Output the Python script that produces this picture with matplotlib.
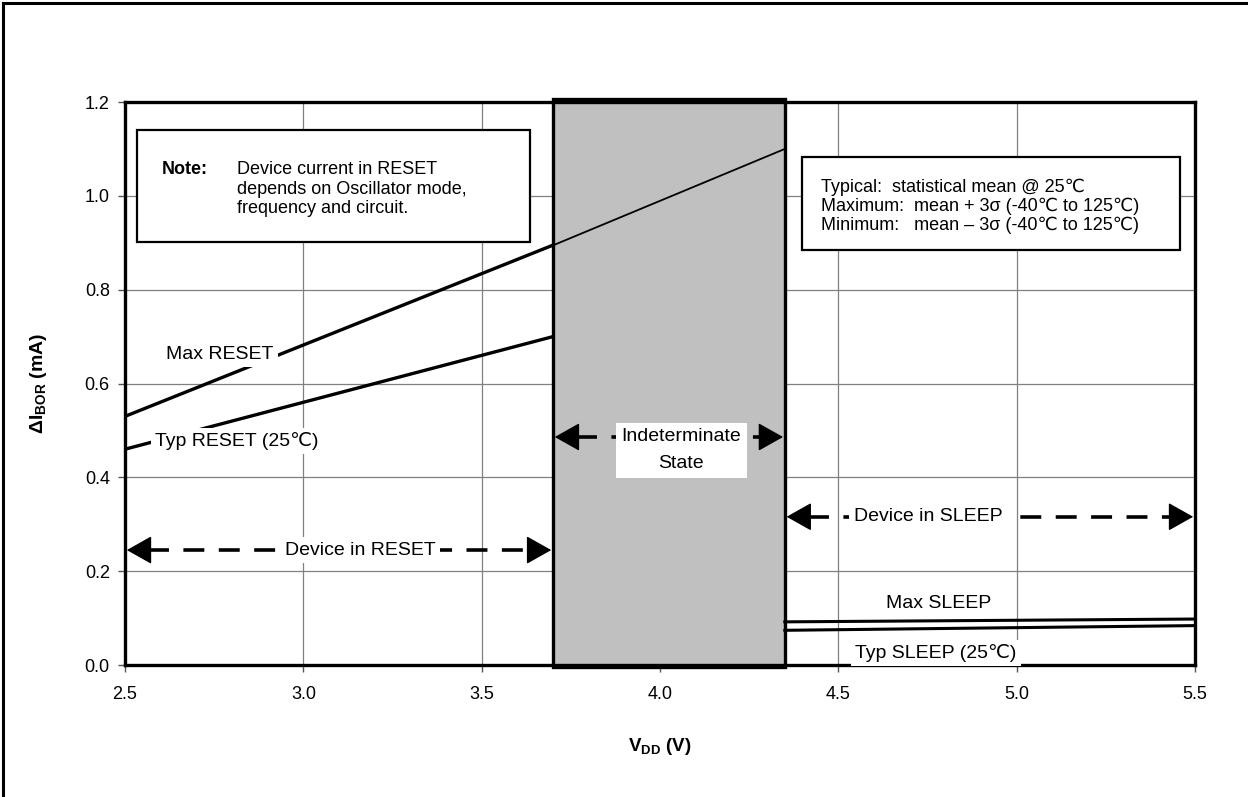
import matplotlib
matplotlib.use('Agg')
import matplotlib.pyplot as plt
from matplotlib.patches import Rectangle
from matplotlib.lines import Line2D

plt.rcParams['font.family'] = ['Liberation Sans', 'DejaVu Sans']
plt.rcParams['mathtext.fontset'] = 'custom'
plt.rcParams['mathtext.rm'] = 'Liberation Sans'
plt.rcParams['mathtext.bf'] = 'Liberation Sans:bold'

# data
vdd_reset = [2.5, 3.7]
max_reset = [0.53, 0.895]
typ_reset = [0.46, 0.70]
vdd_max_ext = [3.67, 4.35]
max_reset_ext = [0.885, 1.10]
vdd_sleep = [4.35, 5.5]
max_sleep = [0.092, 0.098]
typ_sleep = [0.074, 0.084]
indet_lo, indet_hi = 3.7, 4.35
xticks = [2.5, 3.0, 3.5, 4.0, 4.5, 5.0, 5.5]
yticks = [0.0, 0.2, 0.4, 0.6, 0.8, 1.0, 1.2]

fig = plt.figure(figsize=(12.48, 7.97), dpi=100)
ax = fig.add_axes([0.1002, 0.1656, 0.8573, 0.7064])
ax.set_xlim(2.5, 5.5)
ax.set_ylim(0, 1.2)
ax.set_xticks(xticks)
ax.set_yticks(yticks)
ax.set_xticklabels([f'{v:.1f}' for v in xticks])
ax.set_yticklabels([f'{v:.1f}' for v in yticks])
ax.tick_params(labelsize=13, length=5, width=1, color='#555555', pad=6)
ax.tick_params(axis='x', pad=10)
ax.grid(True, color='#808080', lw=0.9)
ax.set_axisbelow(True)
for s in ax.spines.values():
    s.set_linewidth(2.4)
    s.set_color('black')

# outer frame (top + left only)
fig.add_artist(Line2D([0.0025, 1.0], [0.996, 0.996], color='black', lw=2.2))
fig.add_artist(Line2D([0.0025, 0.0025], [0.0, 0.996], color='black', lw=2.2))

# indeterminate zone
ax.add_patch(Rectangle((indet_lo, -0.004), indet_hi - indet_lo, 1.21,
                       facecolor='#c0c0c0', edgecolor='black', lw=2.4,
                       clip_on=False, zorder=2))

ax.plot(vdd_reset, max_reset, color='black', lw=2.4, zorder=3)
ax.plot(vdd_reset, typ_reset, color='black', lw=2.4, zorder=3)
ax.plot(vdd_max_ext, max_reset_ext, color='black', lw=1.3, zorder=3)
ax.plot(vdd_sleep, max_sleep, color='black', lw=2.2, zorder=3)
ax.plot(vdd_sleep, typ_sleep, color='black', lw=2.2, zorder=3)

lbl = dict(fontsize=14, ha='center', va='center', zorder=5,
           bbox=dict(facecolor='white', edgecolor='none', pad=3))
ax.text(2.766, 0.661, 'Max RESET', **lbl)
ax.text(2.814, 0.478, 'Typ RESET (25\u2103)', **lbl)
ax.text(4.78, 0.132, 'Max SLEEP', **lbl)
ax.text(4.774, 0.026, 'Typ SLEEP (25\u2103)', **lbl)


def dbl_arrow(x0, x1, y):
    hl = 0.06
    ax.plot([x0 + hl, x1 - hl], [y, y], color='black', lw=2.6,
            dashes=(5.8, 4.0), zorder=4)
    for tip, tail in ((x0, x0 + hl), (x1, x1 - hl)):
        ax.annotate('', xy=(tip, y), xytext=(tail, y),
                    arrowprops=dict(arrowstyle='-|>,head_length=1.6,head_width=0.9',
                                    color='black', lw=1, shrinkA=0, shrinkB=0),
                    zorder=4)


dbl_arrow(2.505, 3.695, 0.245)
ax.text(3.159, 0.245, 'Device in RESET', **lbl)
dbl_arrow(3.705, 4.345, 0.486)
ax.text(4.06, 0.458, 'Indeterminate\nState', fontsize=14, ha='center', va='center',
        zorder=5, linespacing=1.75,
        bbox=dict(facecolor='white', edgecolor='none', pad=4))
dbl_arrow(4.355, 5.495, 0.316)
ax.text(4.751, 0.316, 'Device in SLEEP', **lbl)

# note box
ax.add_patch(Rectangle((2.534, 0.902), 1.101, 0.239, facecolor='white',
                       edgecolor='black', lw=1.6, zorder=5))
ax.text(2.604, 1.075, 'Note:', fontsize=13, fontweight='bold', va='top', zorder=6)
ax.text(2.814, 1.075, 'Device current in RESET\ndepends on Oscillator mode,\nfrequency and circuit.',
        fontsize=13, va='top', zorder=6, linespacing=1.22)

# statistics box
ax.add_patch(Rectangle((4.398, 0.885), 1.06, 0.198, facecolor='white',
                       edgecolor='black', lw=1.6, zorder=5))
ax.text(4.451, 1.036, 'Typical:  statistical mean @ 25\u2103\n'
        'Maximum:  mean + 3\u03c3 (-40\u2103 to 125\u2103)\n'
        'Minimum:   mean \u2013 3\u03c3 (-40\u2103 to 125\u2103)',
        fontsize=13, va='top', zorder=6, linespacing=1.12)

ax.set_xlabel(r'$\mathbf{V_{DD}}$ (V)', fontsize=13.5, fontweight='bold', labelpad=24)
ax.set_ylabel(r'$\mathbf{\Delta I_{BOR}}$ (mA)', fontsize=14, fontweight='bold', labelpad=26)

fig.savefig('out.png', dpi=100)
